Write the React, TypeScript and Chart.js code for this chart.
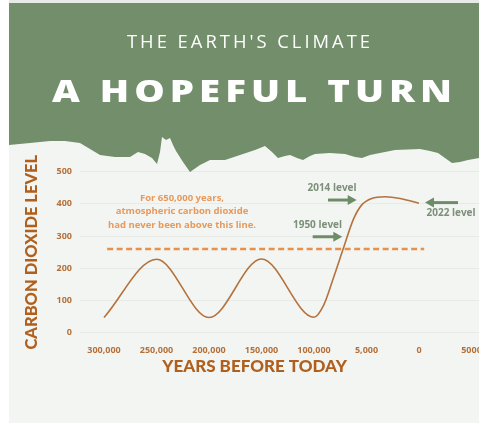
import React, { useEffect, useRef } from "react";
import { Chart, registerables } from "chart.js";

Chart.register(...registerables);

// ---------- data ----------
const xTickLabels = ["300,000", "250,000", "200,000", "150,000", "100,000", "5,000", "0", "5000"];
const yTickValues = [0, 100, 200, 300, 400, 500];
// curve: position along the category axis (index) and CO2 level
const curveX = [0, 1, 2, 3, 4, 4.18, 4.37, 4.56, 4.75, 4.91, 5.1, 5.35, 5.64, 6];
const curveY = [47, 228, 47, 229, 48, 84, 170, 262, 352, 397, 417, 422, 417, 402];
const thresholdX = [0.06, 6.1];
const thresholdValue = 260;

const headerKicker = "THE EARTH'S CLIMATE";
const headerTitle = "A HOPEFUL TURN";
const yTitle = "CARBON DIOXIDE LEVEL";
const xTitle = "YEARS BEFORE TODAY";
const noteLines = ["For 650,000 years,", "atmospheric carbon dioxide", "had never been above this line."];
const noteX = 1.486;
const noteY = [417, 376, 334];
const levelLabels = ["2014 level", "1950 level", "2022 level"];
const levelLabelX = [4.343, 4.067, 6.61];
const levelLabelY = [448, 334, 371];
const arrowFromX = [4.267, 3.975, 6.743];
const arrowToX = [4.813, 4.539, 6.114];
const arrowY = [412, 298, 404];
const xTitleCenterX = 2.868; // in axis units (centre of "YEARS BEFORE TODAY")

// ---------- styles ----------
const GREEN = "#728e6b";
const BG = "#f3f5f3";
const BROWN = "#b0601e";
const TICK = "#b4703a";
const CURVE = "#b5723c";
const DASH = "#e8914a";
const NOTE = "#e8995a";
const LEVEL_TXT = "#7c8f79";
const ARROW = "#6e8d66";

const edge: [number, number][] = [
  [9, 145], [30, 143], [50, 141], [65, 141], [80, 143], [90, 149], [100, 155], [115, 157], [130, 157],
  [138, 152], [145, 154], [152, 158], [157, 164], [160, 152], [162, 137], [166, 140], [170, 138],
  [173, 145], [176, 151], [183, 162], [190, 172], [200, 165], [210, 160], [225, 160], [240, 155],
  [255, 150], [265, 146], [272, 152], [278, 158], [285, 156], [290, 155], [297, 158], [303, 160],
  [310, 156], [315, 154], [330, 153], [345, 154], [355, 157], [362, 158], [370, 155], [385, 152],
  [395, 150], [420, 149], [430, 151], [438, 153], [445, 158], [452, 163], [460, 162], [468, 160], [479, 158],
];

// draws text with a fixed letter spacing, stretched horizontally to span left..right
function drawFitted(
  ctx: CanvasRenderingContext2D, text: string, font: string,
  left: number, right: number, y: number, spacing: number
) {
  ctx.font = font;
  ctx.textAlign = "left";
  const chars = Array.from(text);
  const widths = chars.map((c) => ctx.measureText(c).width);
  const total = widths.reduce((a, b) => a + b, 0);
  const sx = (right - left - spacing * (chars.length - 1)) / total;
  let x = left;
  chars.forEach((c, i) => {
    ctx.save();
    ctx.translate(x, y);
    ctx.scale(sx, 1);
    ctx.fillText(c, 0, 0);
    ctx.restore();
    x += widths[i] * sx + spacing;
  });
}

function drawArrow(ctx: CanvasRenderingContext2D, x1: number, x2: number, y: number) {
  const dir = Math.sign(x2 - x1);
  const head = 9;
  const hw = 5;
  ctx.strokeStyle = ARROW;
  ctx.fillStyle = ARROW;
  ctx.lineWidth = 3;
  ctx.beginPath();
  ctx.moveTo(x1, y);
  ctx.lineTo(x2 - dir * head * 0.8, y);
  ctx.stroke();
  ctx.beginPath();
  ctx.moveTo(x2, y);
  ctx.lineTo(x2 - dir * head, y - hw);
  ctx.lineTo(x2 - dir * head, y + hw);
  ctx.closePath();
  ctx.fill();
}

const decorPlugin = {
  id: "decor",
  beforeDraw(chart: any) {
    const { ctx, width, height } = chart;
    ctx.save();
    ctx.fillStyle = "#ffffff";
    ctx.fillRect(0, 0, width, height);
    ctx.fillStyle = "#e6ebe5";
    ctx.fillRect(9, 0, width - 9, 3);
    ctx.fillStyle = BG;
    ctx.fillRect(9, 3, width - 9, height - 3);
    ctx.beginPath();
    ctx.moveTo(9, 3);
    ctx.lineTo(width, 3);
    for (let i = edge.length - 1; i >= 0; i--) ctx.lineTo(edge[i][0], edge[i][1]);
    ctx.closePath();
    ctx.fillStyle = GREEN;
    ctx.fill();
    ctx.fillStyle = "#ffffff";
    ctx.textBaseline = "alphabetic";
    drawFitted(ctx, headerKicker, '400 18px "Open Sans"', 127, 370, 48, 3);
    drawFitted(ctx, headerTitle, '800 30.5px "Open Sans"', 52, 452, 102, 5);
    ctx.restore();
  },
  afterDatasetsDraw(chart: any) {
    const { ctx } = chart;
    const xs = chart.scales.x;
    const ys = chart.scales.y;
    ctx.save();
    ctx.textAlign = "center";
    ctx.textBaseline = "middle";
    ctx.font = '700 9.5px "Open Sans"';
    ctx.fillStyle = NOTE;
    noteLines.forEach((line, i) => {
      ctx.fillText(line, xs.getPixelForValue(noteX), ys.getPixelForValue(noteY[i]));
    });
    ctx.font = '700 10px "Open Sans"';
    ctx.fillStyle = LEVEL_TXT;
    levelLabels.forEach((t, i) => {
      ctx.fillText(t, xs.getPixelForValue(levelLabelX[i]), ys.getPixelForValue(levelLabelY[i]));
    });
    arrowFromX.forEach((fx, i) => {
      drawArrow(ctx, xs.getPixelForValue(fx), xs.getPixelForValue(arrowToX[i]), ys.getPixelForValue(arrowY[i]));
    });
    // x-axis title, centred under the data span
    ctx.font = '900 17px "Lato"';
    ctx.fillStyle = BROWN;
    ctx.fillText(xTitle, xs.getPixelForValue(xTitleCenterX), xs.bottom - 56.5);
    ctx.restore();
  },
};

export default function App() {
  const ref = useRef<HTMLCanvasElement | null>(null);
  useEffect(() => {
    if (!ref.current) return;
    const tickFont = { family: "Open Sans", weight: "700" as any, size: 9 };
    const titleFont = { family: "Lato", weight: "900" as any, size: 16.5, lineHeight: 1 };
    const chart = new Chart(ref.current, {
      type: "line",
      data: {
        datasets: [
          {
            data: curveX.map((x, i) => ({ x, y: curveY[i] })),
            borderColor: CURVE,
            borderWidth: 1.6,
            pointRadius: 0,
            cubicInterpolationMode: "monotone",
            fill: false,
          },
          {
            data: thresholdX.map((x) => ({ x, y: thresholdValue })),
            borderColor: DASH,
            borderWidth: 2.5,
            borderDash: [6, 3.5],
            pointRadius: 0,
            fill: false,
          },
        ],
      },
      options: {
        responsive: false,
        animation: false,
        events: [],
        layout: { padding: { left: 9, top: 171.7, right: 0, bottom: 0 } },
        plugins: { legend: { display: false }, tooltip: { enabled: false }, title: { display: false } },
        scales: {
          x: {
            type: "linear",
            min: -0.457,
            max: 7.143,
            grid: { display: false },
            border: { display: false },
            afterBuildTicks: (s: any) => {
              s.ticks = xTickLabels.map((_, i) => ({ value: i }));
            },
            afterFit: (s: any) => {
              s.height = 90.3;
              s.paddingLeft = 0;
              s.paddingRight = 0;
            },
            ticks: {
              autoSkip: false,
              maxRotation: 0,
              padding: 4,
              color: TICK,
              font: tickFont,
              callback: (v: any) => xTickLabels[v] ?? "",
            },
            title: { display: false },
          },
          y: {
            type: "linear",
            min: 0,
            max: 500,
            afterBuildTicks: (s: any) => {
              s.ticks = yTickValues.map((v) => ({ value: v }));
            },
            afterFit: (s: any) => {
              s.width = 71;
            },
            grid: { color: "rgba(0,0,0,0.045)", drawTicks: false },
            border: { display: false },
            ticks: { padding: 8, color: TICK, font: tickFont },
            title: { display: true, text: yTitle, color: BROWN, font: titleFont, padding: { top: 14.3, bottom: 0 } },
          },
        },
      },
      plugins: [decorPlugin],
    } as any);
    return () => chart.destroy();
  }, []);
  return (
    <div style={{ position: "fixed", left: 0, top: 0, width: 479, height: 423, background: "#fff" }}>
      <canvas ref={ref} width={479} height={423} style={{ display: "block", width: 479, height: 423 }} />
    </div>
  );
}
